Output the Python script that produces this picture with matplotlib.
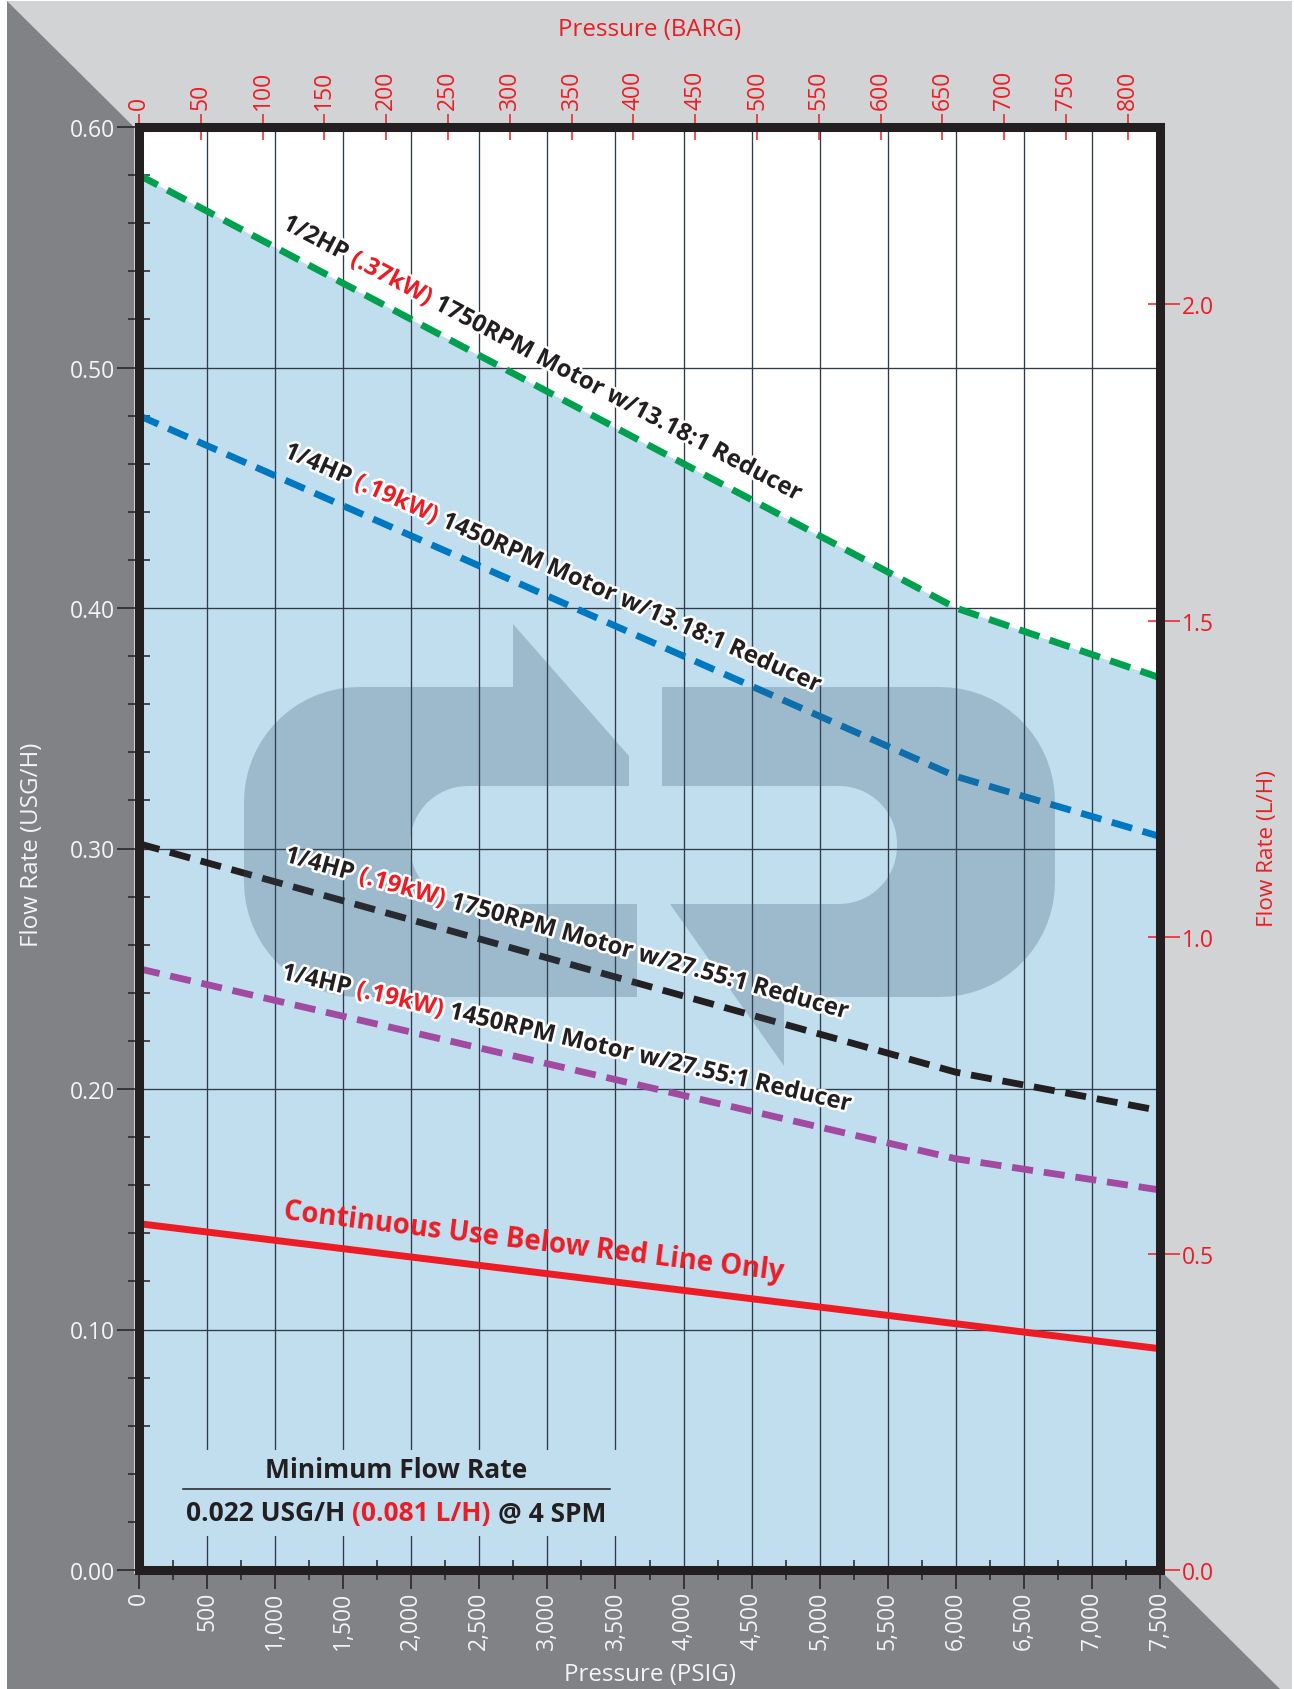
import matplotlib

matplotlib.use("Agg")
import matplotlib.patheffects as pe
import matplotlib.pyplot as plt
import numpy as np
from matplotlib.font_manager import FontProperties
from matplotlib.patches import Polygon, Rectangle
from matplotlib.ticker import FuncFormatter
from matplotlib.transforms import Affine2D, IdentityTransform

W, H = 1294, 1690
FONT = "Open Sans"

# flow (USG/H) against discharge pressure (PSIG)
psi = [0, 6000, 7500]
hp050_1750_1318 = [0.580, 0.400, 0.371]
hp025_1450_1318 = [0.480, 0.330, 0.305]
hp025_1750_2755 = [0.302, 0.207, 0.191]
hp025_1450_2755 = [0.250, 0.171, 0.158]
limit_psi = [0, 7500]
limit_flow = [0.144, 0.092]

psi_ticks = list(range(0, 7501, 500))
psi_minor = list(range(250, 7500, 500))
usgh_ticks = [0.0, 0.1, 0.2, 0.3, 0.4, 0.5, 0.6]
usgh_minor = [round(0.02 * i, 2) for i in range(31) if i % 5]
barg_ticks = list(range(0, 801, 50))
lh_ticks = [0.0, 0.5, 1.0, 1.5, 2.0]
BARG_AT_7500 = 826  # top scale as printed
LH_PER_USGH = 3.80

BG_DARK = "#808285"
BG_LIGHT = "#d1d3d4"
FRAME = "#231f20"
FILL = "#c1deef"
GRID = "#2f3c48"
RED = "#ed1c24"
LIGHT_TXT = "#f4f4f4"

curves = [
    (hp050_1750_1318, "#00a04e", ["1/2HP", "(.37kW)", "1750RPM Motor w/13.18:1 Reducer"], 2940),
    (hp025_1450_1318, "#0078c1", ["1/4HP", "(.19kW)", "1450RPM Motor w/13.18:1 Reducer"], 3020),
    (hp025_1750_2755, FRAME, ["1/4HP", "(.19kW)", "1750RPM Motor w/27.55:1 Reducer"], 3130),
    (hp025_1450_2755, "#a24a9f", ["1/4HP", "(.19kW)", "1450RPM Motor w/27.55:1 Reducer"], 3130),
]
LABEL_LIFT = 0.0095

fig = plt.figure(figsize=(W / 100, H / 100), dpi=100, facecolor="white")
px = Affine2D().scale(1 / 100, -1 / 100).translate(0, H / 100) + fig.dpi_scale_trans

fig.add_artist(Polygon([(7, 2), (1292, 2), (1292, H), (7, H)], closed=True,
                       fc=BG_LIGHT, ec="none", transform=px, zorder=-10))
fig.add_artist(Polygon([(7, 2), (134, 128), (134, 1575), (1164, 1575), (1280, H), (7, H)],
                       closed=True, fc=BG_DARK, ec="none", transform=px, zorder=-9))

ax = fig.add_axes([139 / W, 1 - 1571 / H, (1160 - 139) / W, (1571 - 128) / H])
ax.set_facecolor("white")
ax.set_xlim(0, 7500)
ax.set_ylim(0, 0.6)

ax.fill_between(psi, 0, hp050_1750_1318, color=FILL, lw=0, zorder=1)
ax.vlines(psi_ticks[1:-1], 0, 0.6, color=GRID, lw=0.95, zorder=1.5)
ax.hlines(usgh_ticks[1:-1], 0, 7500, color=GRID, lw=0.95, zorder=1.5)
# the minimum-flow note sits on a clear patch
ax.add_patch(Rectangle((0, 0.0141), 3755, 0.0358, fc=FILL, ec="none", zorder=1.6))

for flow, colour, _, _ in curves:
    ax.plot(psi, flow, color=colour, lw=4.9, dashes=(3.1, 1.6), zorder=3)
ax.plot(limit_psi, limit_flow, color=RED, lw=5.0, solid_capstyle="butt", zorder=3)


# watermark logo, full-size pixel coordinates
def corner(cx, cy, r, t0, t1, n=18):
    t = np.radians(np.linspace(t0, t1, n))
    return list(zip(cx + r * np.cos(t), cy + r * np.sin(t)))


OX0, OX1, OY0, OY1, R = 244, 1055, 688, 998, 115
IX0, IX1, IY0, IY1, RI = 410, 897, 787, 905, 58
c_part = [(629, 787), (629, 757), (513, 625), (513, 688)]
c_part += corner(OX0 + R, OY0 + R, R, 270, 180) + corner(OX0 + R, OY1 - R, R, 180, 90)
c_part += [(637, 998), (637, 905)]
c_part += corner(IX0 + RI, IY1 - RI, RI, 90, 180) + corner(IX0 + RI, IY0 + RI, RI, 180, 270)
p_part = [(662, 688)]
p_part += corner(OX1 - R, OY0 + R, R, 270, 360) + corner(OX1 - R, OY1 - R, R, 0, 90)
p_part += [(784, 998), (784, 1067), (670, 905)]
p_part += corner(IX1 - RI, IY1 - RI, RI, 90, 0) + corner(IX1 - RI, IY0 + RI, RI, 360, 270)
p_part += [(662, 787)]
for part in (c_part, p_part):
    ax.add_patch(Polygon(part, closed=True, fc="#355267", ec="none", alpha=0.25,
                         transform=px, zorder=3.5))

for side in ax.spines.values():
    side.set_linewidth(6.5)
    side.set_color(FRAME)
    side.set_zorder(6)

ax.set_xticks(psi_ticks)
ax.set_xticks(psi_minor, minor=True)
ax.set_yticks(usgh_ticks)
ax.set_yticks(usgh_minor, minor=True)
ax.xaxis.set_major_formatter(FuncFormatter(lambda v, _: f"{v:,.0f}"))
ax.yaxis.set_major_formatter(FuncFormatter(lambda v, _: f"{v:.2f}"))
ax.tick_params(axis="x", which="major", direction="out", length=13.7, width=1.1,
               color=FRAME, labelsize=16.5, labelcolor=LIGHT_TXT, labelrotation=90, pad=1.5)
ax.tick_params(axis="x", which="minor", direction="inout", length=15, width=1.1, color=FRAME)
ax.tick_params(axis="y", which="major", direction="out", length=15.8, width=1.1,
               color=FRAME, labelsize=16.5, labelcolor=LIGHT_TXT, pad=1.5)
ax.tick_params(axis="y", which="minor", direction="inout", length=16, width=1.1, color=FRAME)
ax.tick_params(which="both", top=False, right=False)
for lab in ax.get_xticklabels() + ax.get_yticklabels():
    lab.set_fontfamily(FONT)

top = ax.secondary_xaxis("top", functions=(lambda p: p * BARG_AT_7500 / 7500,
                                           lambda b: b * 7500 / BARG_AT_7500))
top.set_xticks(barg_ticks)
top.tick_params(direction="inout", length=19.4, width=1.1, color=RED, labelcolor=RED,
                labelsize=16.5, labelrotation=90, pad=3)
right = ax.secondary_yaxis("right", functions=(lambda u: u * LH_PER_USGH,
                                               lambda l: l / LH_PER_USGH))
right.set_yticks(lh_ticks)
right.set_yticks(lh_ticks, minor=True)
right.yaxis.remove_overlapping_locs = False
right.yaxis.set_major_formatter(FuncFormatter(lambda v, _: f"{v:.1f}"))
right.tick_params(which="major", direction="out", length=14.4, width=1.1, color=RED,
                  labelcolor=RED, labelsize=16.5, pad=1.5)
right.tick_params(which="minor", direction="in", length=8.6, width=1.1, color=RED)
for sec in (top, right):
    sec.set_zorder(5.5)
    for side in sec.spines.values():
        side.set_visible(False)
    for lab in sec.get_xticklabels() + sec.get_yticklabels():
        lab.set_fontfamily(FONT)

renderer = fig.canvas.get_renderer()
halo = [pe.withStroke(linewidth=3.6, foreground="white")]


def run_text(x, y, parts, angle, size, weight, effects=None):
    """Lay coloured pieces along one baseline, centred on data point (x, y)."""
    fp = FontProperties(family=FONT, size=size, weight=weight)
    width = lambda s: renderer.get_text_width_height_descent(s, fp, ismath=False)[0]
    gap = width("x x") - width("xx")
    widths = [width(s) for s, _ in parts]
    total = sum(widths) + gap * (len(parts) - 1)
    cx, cy = ax.transData.transform((x, y))
    ux, uy = np.cos(np.radians(angle)), np.sin(np.radians(angle))
    pos = -total / 2
    for (s, colour), w in zip(parts, widths):
        ax.text(cx + pos * ux, cy + pos * uy, s, transform=IdentityTransform(),
                fontproperties=fp, color=colour, rotation=angle, rotation_mode="anchor",
                ha="left", va="baseline", zorder=4, path_effects=effects, clip_on=False)
        pos += w + gap


def slope_angle(xs, ys, x):
    a = ax.transData.transform((x - 300, np.interp(x - 300, xs, ys)))
    b = ax.transData.transform((x + 300, np.interp(x + 300, xs, ys)))
    return np.degrees(np.arctan2(b[1] - a[1], b[0] - a[0]))


for flow, _, words, lx in curves:
    run_text(lx, np.interp(lx, psi, flow) + LABEL_LIFT,
             [(words[0], FRAME), (words[1], RED), (words[2], FRAME)],
             slope_angle(psi, flow, lx), 17.3, "bold", halo)

lx = 2890
run_text(lx, np.interp(lx, limit_psi, limit_flow) + LABEL_LIFT,
         [("Continuous Use Below Red Line Only", RED)],
         slope_angle(limit_psi, limit_flow, lx), 19.9, "bold")

run_text(1888, 0.0385, [("Minimum Flow Rate", FRAME)], 0, 19, "bold")
ax.plot([322, 3458], [0.0337, 0.0337], color=FRAME, lw=1.1, zorder=4)
run_text(1888, 0.0206, [("0.022 USG/H", FRAME), ("(0.081 L/H)", RED), ("@ 4 SPM", FRAME)],
         0, 19, "bold")

fig.text(650 / W, 1 - 30 / H, "Pressure (BARG)", color=RED, fontsize=17.4, family=FONT,
         ha="center", va="center")
fig.text(650 / W, 1 - 1675 / H, "Pressure (PSIG)", color=LIGHT_TXT, fontsize=17.4,
         family=FONT, ha="center", va="center")
fig.text(32 / W, 1 - 845 / H, "Flow Rate (USG/H)", color=LIGHT_TXT, fontsize=17.4,
         family=FONT, rotation=90, ha="center", va="center")
fig.text(1267 / W, 1 - 849 / H, "Flow Rate (L/H)", color=RED, fontsize=16.2, family=FONT,
         rotation=90, ha="center", va="center")

fig.savefig("out.png", dpi=100, facecolor="white")
